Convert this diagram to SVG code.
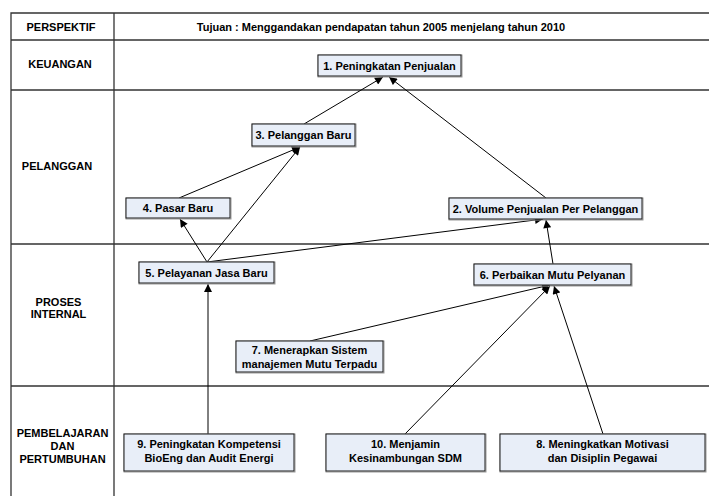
<svg xmlns="http://www.w3.org/2000/svg" width="709" height="496" viewBox="0 0 709 496">
<defs>
<style>
.grid{stroke:#333;stroke-width:1.3;fill:none}
.hdr{font-family:"Liberation Sans",Arial,sans-serif;font-weight:bold;font-size:11px;fill:#000;text-anchor:middle}
.box{fill:#E8EEF8;stroke:#1a1a1a;stroke-width:1}
.sh{fill:none;stroke:#9a9a9a;stroke-width:1}
.lbl{font-family:"Liberation Sans",Arial,sans-serif;font-weight:bold;font-size:11px;fill:#000;text-anchor:middle}
.edge{stroke:#000;stroke-width:1;fill:none;marker-end:url(#ah)}
</style>
<marker id="ah" viewBox="0 0 10 10" refX="10" refY="5" markerWidth="10" markerHeight="8" markerUnits="userSpaceOnUse" orient="auto">
<path d="M0,0 L10,5 L0,10 z" fill="#000"/>
</marker>
</defs>
<rect width="709" height="496" fill="#fff"/>
<g id="table">
<path class="grid" d="M11,496 V13 H709 M114,13 V496 M11,40 H709 M11,90 H709 M11,244 H709 M11,386 H709"/>
<text class="hdr" x="61" y="31">PERSPEKTIF</text>
<text class="hdr" x="381" y="31">Tujuan : Menggandakan pendapatan tahun 2005 menjelang tahun 2010</text>
<text class="hdr" x="60" y="68">KEUANGAN</text>
<text class="hdr" x="57" y="170">PELANGGAN</text>
<text class="hdr" x="58.5" y="306">PROSES</text>
<text class="hdr" x="58.5" y="318">INTERNAL</text>
<text class="hdr" x="62.5" y="437">PEMBELAJARAN</text>
<text class="hdr" x="62.5" y="450">DAN</text>
<text class="hdr" x="62.5" y="463">PERTUMBUHAN</text>
</g>
<g id="connectors">
<line class="edge" x1="304" y1="124" x2="383" y2="77"/>
<line class="edge" x1="546" y1="198" x2="389" y2="77"/>
<line class="edge" x1="179" y1="198" x2="300" y2="147"/>
<line class="edge" x1="207" y1="262" x2="300" y2="147"/>
<line class="edge" x1="207" y1="262" x2="180" y2="219"/>
<line class="edge" x1="207" y1="262" x2="543" y2="219"/>
<line class="edge" x1="553" y1="264" x2="546" y2="220"/>
<line class="edge" x1="310" y1="341" x2="550" y2="285"/>
<line class="edge" x1="405" y1="434" x2="550" y2="286"/>
<line class="edge" x1="603" y1="434" x2="554" y2="286"/>
<line class="edge" x1="208" y1="434" x2="208" y2="284"/>
</g>
<g id="n1"><rect class="sh" x="318" y="55" width="144" height="22"/><rect class="box" x="318" y="55" width="143" height="21"/><text class="lbl" x="389.5" y="69.5">1. Peningkatan Penjualan</text></g>
<g id="n3"><rect class="sh" x="252" y="124" width="104" height="23"/><rect class="box" x="252" y="124" width="103" height="22"/><text class="lbl" x="303.5" y="139">3. Pelanggan Baru</text></g>
<g id="n4"><rect class="sh" x="126" y="198" width="105" height="21"/><rect class="box" x="126" y="198" width="104" height="20"/><text class="lbl" x="178" y="212">4. Pasar Baru</text></g>
<g id="n2"><rect class="sh" x="449" y="198" width="194" height="22"/><rect class="box" x="449" y="198" width="193" height="21"/><text class="lbl" x="545.5" y="212.5">2. Volume Penjualan Per Pelanggan</text></g>
<g id="n5"><rect class="sh" x="139" y="262" width="136" height="22"/><rect class="box" x="139" y="262" width="135" height="21"/><text class="lbl" x="206.5" y="276.5">5. Pelayanan Jasa Baru</text></g>
<g id="n6"><rect class="sh" x="474" y="264" width="158" height="22"/><rect class="box" x="474" y="264" width="157" height="21"/><text class="lbl" x="552.5" y="278.5">6. Perbaikan Mutu Pelyanan</text></g>
<g id="n7"><rect class="sh" x="236" y="341" width="148" height="32"/><rect class="box" x="236" y="341" width="147" height="31"/><text class="lbl" x="309.5" y="354">7. Menerapkan Sistem</text><text class="lbl" x="309.5" y="367.5">manajemen Mutu Terpadu</text></g>
<g id="n9"><rect class="sh" x="124" y="434" width="171" height="38"/><rect class="box" x="124" y="434" width="170" height="37"/><text class="lbl" x="209" y="448">9. Peningkatan Kompetensi</text><text class="lbl" x="209" y="462">BioEng dan Audit Energi</text></g>
<g id="n10"><rect class="sh" x="326" y="434" width="160" height="38"/><rect class="box" x="326" y="434" width="159" height="37"/><text class="lbl" x="405.5" y="448">10. Menjamin</text><text class="lbl" x="405.5" y="462">Kesinambungan SDM</text></g>
<g id="n8"><rect class="sh" x="500" y="434" width="206" height="38"/><rect class="box" x="500" y="434" width="205" height="37"/><text class="lbl" x="602.5" y="448">8. Meningkatkan Motivasi</text><text class="lbl" x="602.5" y="462">dan Disiplin Pegawai</text></g>
</svg>
